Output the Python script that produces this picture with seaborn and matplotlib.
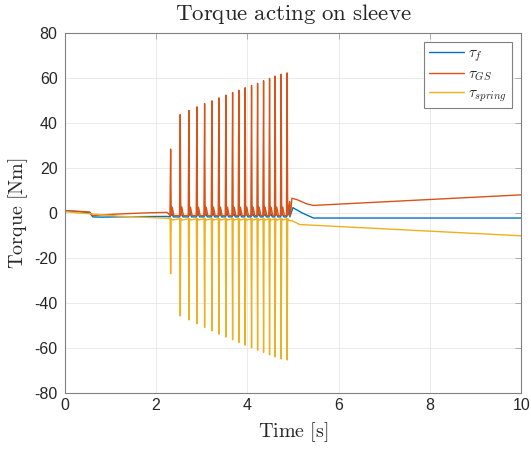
import matplotlib
matplotlib.use("Agg")
import matplotlib.pyplot as plt
import numpy as np
import pandas as pd
import seaborn as sns

# spike instants [s] and peak values [Nm]
spike_t = [2.324, 2.534, 2.724, 2.899, 3.068, 3.228, 3.381, 3.534, 3.681,
           3.818, 3.956, 4.096, 4.228, 4.359, 4.490, 4.613, 4.744, 4.875]
gs_peak = [28.3, 43.7, 45.5, 47.1, 48.6, 49.8, 51.1, 52.3, 53.5,
           54.5, 55.6, 56.6, 57.6, 58.7, 59.7, 60.8, 61.6, 62.2]
spring_trough = [-27.1, -45.8, -47.6, -49.3, -50.9, -52.4, -53.9, -55.2, -56.4,
                 -57.6, -58.8, -60.0, -61.0, -62.0, -63.1, -64.0, -64.9, -65.4]

# slow parts of each signal (before and after the spike train)
f_pre_t = [0.0, 0.3, 0.55, 0.62, 0.8, 1.5, 2.25]
f_pre_v = [1.0, 0.5, 0.0, -1.8, -1.9, -1.7, -1.6]
f_post_t = [4.93, 5.0, 5.2, 5.45, 10.0]
f_post_v = [2.5, 2.3, 0.0, -2.3, -2.3]

gs_pre_t = [0.0, 0.3, 0.55, 0.62, 0.75, 1.2, 1.8, 2.25]
gs_pre_v = [1.0, 0.7, 0.4, -1.2, -1.0, -0.5, 0.0, 0.2]
gs_post_t = [4.93, 4.98, 5.1, 5.3, 5.45, 10.0]
gs_post_v = [5.0, 6.5, 5.8, 4.0, 3.3, 8.0]

sp_pre_t = [0.0, 0.6, 1.2, 2.25]
sp_pre_v = [0.5, -0.5, -1.5, -2.4]
sp_post_t = [4.93, 4.98, 5.15, 10.0]
sp_post_v = [-3.5, -3.5, -5.2, -10.2]

# shape of one spike: time offsets and levels around each spike instant
f_shape_dt = [-0.01, 0.01, 0.03, 0.06]
f_shape_v = [-1.8, 3.0, -0.5, -1.8]
gs_shape_dt = [-0.015, 0.012, 0.035, 0.07]
gs_shape_v = [-1.2, -1.2, 2.5, -1.2]
sp_shape_dt = [-0.012, 0.012, 0.04]
sp_shape_v = [-2.6, -2.6, -3.2]


def build(pre_t, pre_v, post_t, post_v, dts, vals, peaks=None):
    t, v = list(pre_t), list(pre_v)
    for i, ts in enumerate(spike_t):
        for dt, val in zip(dts, vals):
            t.append(ts + dt)
            v.append(val)
        if peaks is not None:
            t.append(ts)
            v.append(peaks[i])
    t += post_t
    v += post_v
    order = np.argsort(t, kind="stable")
    return np.array(t)[order], np.array(v)[order]


labels = [r"$\tau_f$", r"$\tau_{GS}$", r"$\tau_{spring}$"]
series = [
    build(f_pre_t, f_pre_v, f_post_t, f_post_v, f_shape_dt, f_shape_v),
    build(gs_pre_t, gs_pre_v, gs_post_t, gs_post_v, gs_shape_dt, gs_shape_v, gs_peak),
    build(sp_pre_t, sp_pre_v, sp_post_t, sp_post_v, sp_shape_dt, sp_shape_v, spring_trough),
]

frames = []
for lab, (t, v) in zip(labels, series):
    frames.append(pd.DataFrame({"t": t, "v": v, "series": lab}))
df = pd.concat(frames, ignore_index=True)

sns.set_theme(style="whitegrid")
plt.rcParams["font.family"] = ["Liberation Sans", "DejaVu Sans"]
plt.rcParams["mathtext.fontset"] = "cm"
plt.rcParams["axes.unicode_minus"] = False

fig = plt.figure(figsize=(5.31, 4.5), dpi=100)
ax = fig.add_axes([0.1215, 0.127, 0.86, 0.8])

palette = ["#0072BD", "#D95319", "#EDB120"]
sns.lineplot(data=df, x="t", y="v", hue="series", palette=palette,
             estimator=None, sort=False, linewidth=1.0, ax=ax)

ax.set_xlim(0, 10)
ax.set_ylim(-80, 80)
ax.set_xticks(np.arange(0, 11, 2))
ax.set_yticks(np.arange(-80, 81, 20))
ax.grid(True, color="#e6e6e6", linewidth=0.6)
ax.set_facecolor("white")
for s in ax.spines.values():
    s.set_color("#808080")
    s.set_linewidth(0.8)
ax.tick_params(axis="both", which="both", direction="in", length=4,
               colors="#a0a0a0", labelcolor="#262626", labelsize=11.5,
               top=True, right=True, width=0.6)
ax.tick_params(axis="x", pad=4)
ax.tick_params(axis="y", pad=5)

ax.set_title(r"$\mathrm{Torque\ acting\ on\ sleeve}$", fontsize=16.5, pad=9)
ax.set_xlabel(r"$\mathrm{Time\ [s]}$", fontsize=14.5, labelpad=5)
ax.set_ylabel(r"$\mathrm{Torque\ [Nm]}$", fontsize=14.5, labelpad=3)

handles, _ = ax.get_legend_handles_labels()
leg = ax.legend(handles, labels, loc="upper right", fontsize=11, frameon=True,
                fancybox=False, framealpha=1, edgecolor="#808080",
                borderpad=0.3, handlelength=2.3, handletextpad=0.3,
                labelspacing=0.2, borderaxespad=0.6)
leg.get_frame().set_linewidth(0.8)

fig.savefig("out.png", dpi=100)
